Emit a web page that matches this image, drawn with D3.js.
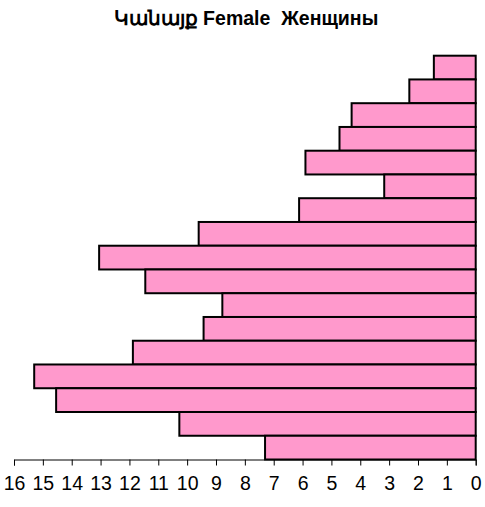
<!DOCTYPE html>
<html>
<head>
<meta charset="utf-8">
<script src="https://cdn.jsdelivr.net/npm/d3@7"></script>
<style>
  body { margin: 0; background: #fff; }
  text { font-family: "Liberation Sans", Arial, sans-serif; }
</style>
</head>
<body>
<svg id="chart"></svg>
<script>
// age groups, top to bottom
var ageGroups = ['80+', '75-79', '70-74', '65-69', '60-64', '55-59', '50-54', '45-49',
  '40-44', '35-39', '30-34', '25-29', '20-24', '15-19', '10-14', '5-9', '0-4'];
// share of women, %
var femaleValues = [1.45, 2.3, 4.3, 4.72, 5.9, 3.17, 6.12, 9.6, 13.05, 11.45, 8.78,
  9.43, 11.88, 15.3, 14.54, 10.27, 7.3];
var tickValues = [16, 15, 14, 13, 12, 11, 10, 9, 8, 7, 6, 5, 4, 3, 2, 1, 0];
var title = 'Կանայք Female  Женщины';

(function() {
  var width = 485;
  var height = 507;
  var margin = {
    top: 55.7,
    left: 14,
    right: 9.3,
    bottom: 47.5
  };

  var svg = d3.select('#chart')
    .attr('width', width)
    .attr('height', height);

  // x goes right to left
  var x = d3.scaleLinear()
    .domain([16, 0])
    .range([margin.left, width - margin.right]);

  var y = d3.scaleBand()
    .domain(ageGroups)
    .range([margin.top, height - margin.bottom])
    .padding(0);

  // title (keep the double space)
  svg.append('text')
    .attr('x', 246)
    .attr('y', 25)
    .attr('text-anchor', 'middle')
    .attr('font-size', 19.5)
    .attr('font-weight', 'bold')
    .style('white-space', 'pre')
    .text(title);

  // axis
  var axis = svg.append('g')
    .attr('transform', 'translate(0,' + (height - margin.bottom) + ')')
    .call(d3.axisBottom(x).tickValues(tickValues).tickSize(6).tickPadding(11));

  axis.select('.domain').attr('stroke', '#000').attr('stroke-width', 1);
  axis.selectAll('.tick line').attr('stroke', '#000');
  axis.selectAll('.tick text')
    .attr('font-size', 19.5)
    .attr('fill', '#000')
    .style('font-family', '"Liberation Sans", Arial, sans-serif');

  // bars
  var data = ageGroups.map(function(d, i) {
    return { name: d, value: femaleValues[i] };
  });

  svg.append('g')
    .selectAll('rect')
    .data(data)
    .enter()
    .append('rect')
    .attr('x', function(d) { return x(d.value); })
    .attr('y', function(d) { return y(d.name); })
    .attr('width', function(d) { return x(0) - x(d.value); })
    .attr('height', y.bandwidth())
    .attr('fill', '#FF99CC')
    .attr('stroke', '#000')
    .attr('stroke-width', 2);
}());
</script>
</body>
</html>
